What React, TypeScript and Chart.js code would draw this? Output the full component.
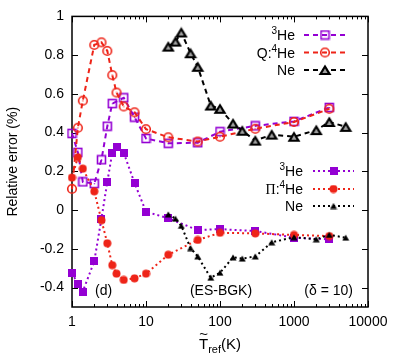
import React, { useEffect, useRef } from 'react';
import { Chart, registerables } from 'chart.js';
Chart.register(...registerables);

// ---- data ----
const q3HeT = [1, 1.2, 1.4, 2, 2.5, 3, 3.5, 5, 7, 10, 20, 50, 100, 300, 1000, 3000];
const q3He = [0.396, 0.298, 0.146, 0.137, 0.26, 0.433, 0.55, 0.58, 0.48, 0.37, 0.345, 0.348, 0.405, 0.435, 0.458, 0.53];
const heT = [1, 1.2, 1.4, 2, 2.5, 3, 3.5, 4, 5, 7, 10, 20, 50, 100, 300, 1000, 3000];
const q4He = [0.11, 0.425, 0.565, 0.853, 0.866, 0.822, 0.697, 0.607, 0.535, 0.505, 0.418, 0.376, 0.354, 0.379, 0.42, 0.455, 0.523];
const p3He = [-0.323, -0.382, -0.42, -0.264, -0.044, 0.146, 0.296, 0.325, 0.296, 0.14, -0.008, -0.042, -0.103, -0.098, -0.108, -0.142, -0.151];
const p4He = [0.168, 0.273, 0.214, 0.097, -0.052, -0.171, -0.284, -0.328, -0.36, -0.352, -0.328, -0.23, -0.154, -0.117, -0.12, -0.128, -0.134];
const neT = [20, 25, 30, 40, 50, 75, 100, 150, 200, 300, 500, 1000, 2000, 3000, 5000];
const qNe = [0.844, 0.87, 0.917, 0.81, 0.74, 0.54, 0.523, 0.447, 0.41, 0.359, 0.39, 0.379, 0.413, 0.455, 0.43];
const pNe = [-0.022, -0.044, -0.081, -0.196, -0.239, -0.349, -0.323, -0.244, -0.25, -0.239, -0.166, -0.14, -0.15, -0.128, -0.142];
const xTicks = [1, 10, 100, 1000, 10000];
const yTicks = [-0.4, -0.2, 0, 0.2, 0.4, 0.6, 0.8, 1];

const PURPLE = '#9400d3';
const RED = '#ee2418';
const BLACK = '#000000';
const SANS = '"Liberation Sans", Arial, sans-serif';
const SERIF = '"Liberation Serif", "DejaVu Serif", serif';

type Seg = { t: string; size?: number; dy?: number; family?: string };

function segFont(s: Seg) {
  return `${s.size ?? 14}px ${s.family ?? SANS}`;
}
function segsWidth(ctx: CanvasRenderingContext2D, segs: Seg[]) {
  let w = 0;
  for (const s of segs) {
    ctx.font = segFont(s);
    w += ctx.measureText(s.t).width;
  }
  return w;
}
function drawSegs(ctx: CanvasRenderingContext2D, segs: Seg[], x: number, y: number, align: 'left' | 'right' | 'center') {
  const w = segsWidth(ctx, segs);
  let cx = align === 'left' ? x : align === 'right' ? x - w : x - w / 2;
  ctx.textAlign = 'left';
  ctx.textBaseline = 'alphabetic';
  ctx.fillStyle = '#000';
  for (const s of segs) {
    ctx.font = segFont(s);
    ctx.fillText(s.t, cx, y + (s.dy ?? 0));
    cx += ctx.measureText(s.t).width;
  }
}

function mk(w: number, h: number, draw: (c: CanvasRenderingContext2D) => void) {
  const cv = document.createElement('canvas');
  cv.width = w;
  cv.height = h;
  const c = cv.getContext('2d')!;
  draw(c);
  return cv;
}

function makeMarkers() {
  const openSquare = mk(11, 11, (c) => {
    c.strokeStyle = PURPLE;
    c.lineWidth = 1.6;
    c.strokeRect(1.5, 1.5, 8, 8);
    c.fillStyle = PURPLE;
    c.fillRect(5, 5, 1.2, 1.2);
  });
  const openCircle = mk(12, 12, (c) => {
    c.strokeStyle = RED;
    c.lineWidth = 1.6;
    c.beginPath();
    c.arc(6, 6, 4.3, 0, Math.PI * 2);
    c.stroke();
    c.fillStyle = RED;
    c.fillRect(5.4, 5.4, 1.2, 1.2);
  });
  const openTri = mk(14, 12, (c) => {
    c.fillStyle = BLACK;
    c.beginPath();
    c.moveTo(7, 0.5);
    c.lineTo(13.5, 11);
    c.lineTo(0.5, 11);
    c.closePath();
    c.fill();
    c.fillStyle = '#a0a0a0';
    c.beginPath();
    c.moveTo(7, 4.6);
    c.lineTo(9.6, 9);
    c.lineTo(4.4, 9);
    c.closePath();
    c.fill();
  });
  const fillSquare = mk(8, 8, (c) => {
    c.fillStyle = PURPLE;
    c.fillRect(0, 0, 8, 8);
  });
  const fillCircle = mk(9, 9, (c) => {
    c.fillStyle = RED;
    c.beginPath();
    c.arc(4.5, 4.5, 4, 0, Math.PI * 2);
    c.fill();
  });
  const fillTri = mk(8, 7, (c) => {
    c.fillStyle = BLACK;
    c.beginPath();
    c.moveTo(4, 0.5);
    c.lineTo(7.5, 6.5);
    c.lineTo(0.5, 6.5);
    c.closePath();
    c.fill();
  });
  return { openSquare, openCircle, openTri, fillSquare, fillCircle, fillTri };
}

const pts = (xs: number[], ys: number[]) => xs.map((x, i) => ({ x, y: ys[i] }));

export default function App() {
  const ref = useRef<HTMLCanvasElement>(null);
  useEffect(() => {
    const m = makeMarkers();
    const DASH = [5, 4];
    const DOT = [2, 3];
    const ds = [
      { label: 'Q:3He', data: pts(q3HeT, q3He), color: PURPLE, dash: DASH, marker: m.openSquare },
      { label: 'Q:4He', data: pts(heT, q4He), color: RED, dash: DASH, marker: m.openCircle },
      { label: 'Q:Ne', data: pts(neT, qNe), color: BLACK, dash: DASH, marker: m.openTri },
      { label: 'P:3He', data: pts(heT, p3He), color: PURPLE, dash: DOT, marker: m.fillSquare },
      { label: 'P:4He', data: pts(heT, p4He), color: RED, dash: DOT, marker: m.fillCircle },
      { label: 'P:Ne', data: pts(neT, pNe), color: BLACK, dash: DOT, marker: m.fillTri },
    ];

    const legendTop: Seg[][] = [
      [{ t: '3', size: 10, dy: -6 }, { t: 'He' }],
      [{ t: 'Q:' }, { t: '4', size: 10, dy: -6 }, { t: 'He' }],
      [{ t: 'Ne' }],
    ];
    const legendBot: Seg[][] = [
      [{ t: '3', size: 10, dy: -6 }, { t: 'He' }],
      [{ t: 'Π', family: SERIF }, { t: ':' }, { t: '4', size: 10, dy: -6 }, { t: 'He' }],
      [{ t: 'Ne' }],
    ];

    const framePlugin = {
      id: 'frame',
      beforeDatasetsDraw(chart: any) {
        const { ctx, chartArea: a, scales } = chart;
        const xs = scales.x, ys = scales.y;
        ctx.save();
        ctx.strokeStyle = '#000';
        ctx.lineWidth = 1;
        ctx.beginPath();
        for (const v of yTicks) {
          const y = Math.round(ys.getPixelForValue(v)) + 0.5;
          ctx.moveTo(a.left, y); ctx.lineTo(a.left + 6, y);
          ctx.moveTo(a.right, y); ctx.lineTo(a.right - 6, y);
        }
        for (let d = 1; d <= 10000; d *= 10) {
          const x = Math.round(xs.getPixelForValue(d)) + 0.5;
          ctx.moveTo(x, a.bottom); ctx.lineTo(x, a.bottom - 6);
          ctx.moveTo(x, a.top); ctx.lineTo(x, a.top + 6);
          if (d < 10000) {
            for (let k = 2; k <= 9; k++) {
              const xm = Math.round(xs.getPixelForValue(d * k)) + 0.5;
              ctx.moveTo(xm, a.bottom); ctx.lineTo(xm, a.bottom - 3);
              ctx.moveTo(xm, a.top); ctx.lineTo(xm, a.top + 3);
            }
          }
        }
        ctx.stroke();
        ctx.lineWidth = 1.5;
        ctx.strokeRect(a.left, a.top, a.right - a.left, a.bottom - a.top);
        ctx.restore();
      },
      afterDraw(chart: any) {
        const { ctx, chartArea: a } = chart;
        ctx.save();
        // y title
        ctx.translate(13, (a.top + a.bottom) / 2);
        ctx.rotate(-Math.PI / 2);
        ctx.font = `14px ${SANS}`;
        ctx.fillStyle = '#000';
        ctx.textAlign = 'center';
        ctx.textBaseline = 'middle';
        ctx.fillText('Relative error (%)', 0, 0);
        ctx.restore();

        ctx.save();
        // x title
        const tSegs: Seg[] = [{ t: 'T', size: 15 }, { t: 'ref', size: 11, dy: 4 }, { t: '(K)', size: 15 }];
        const w = segsWidth(ctx, tSegs);
        const cx = (a.left + a.right) / 2;
        const x0 = cx - w / 2;
        drawSegs(ctx, tSegs, x0, 349, 'left');
        ctx.font = `15px ${SANS}`;
        const tw = ctx.measureText('T').width;
        ctx.font = `15px ${SANS}`;
        ctx.textAlign = 'center';
        ctx.fillText('~', x0 + tw / 2, 339);

        // annotations
        drawSegs(ctx, [{ t: '(d)' }], 95, 295, 'left');
        drawSegs(ctx, [{ t: '(ES-BGK)' }], 221, 295, 'center');
        drawSegs(ctx, [{ t: '(δ = 10)' }], 353, 295, 'right');

        // legends
        const drawLegend = (segs: Seg[][], items: any[], rows: number[], textRight: number, l0: number, l1: number) => {
          segs.forEach((sg, i) => {
            const y = rows[i];
            drawSegs(ctx, sg, textRight, y + 5, 'right');
            const it = items[i];
            ctx.save();
            ctx.strokeStyle = it.color;
            ctx.lineWidth = 2;
            ctx.setLineDash(it.dash);
            ctx.beginPath();
            ctx.moveTo(l0, y); ctx.lineTo(l1, y);
            ctx.stroke();
            ctx.restore();
            const mk = it.marker as HTMLCanvasElement;
            ctx.drawImage(mk, (l0 + l1) / 2 - mk.width / 2, y - mk.height / 2);
          });
        };
        drawLegend(legendTop, ds.slice(0, 3), [35, 52.5, 70], 295, 304, 346);
        drawLegend(legendBot, ds.slice(3, 6), [171, 189, 206], 303, 313, 354);
        ctx.restore();
      },
    };

    const tickFont = { family: SANS, size: 14 };
    const chart = new Chart(ref.current!, {
      type: 'line',
      data: {
        datasets: ds.map((d, i) => ({
          label: d.label,
          data: d.data,
          borderColor: d.color,
          backgroundColor: d.color,
          borderWidth: 2,
          borderDash: d.dash,
          borderCapStyle: 'butt',
          pointStyle: d.marker,
          pointRadius: 5,
          tension: 0,
          clip: false,
          order: 6 - i,
        })) as any,
      },
      options: {
        animation: false,
        responsive: false,
        maintainAspectRatio: false,
        layout: { padding: { left: 0, right: 30, top: 11, bottom: 0 } },
        plugins: { legend: { display: false }, tooltip: { enabled: false } },
        events: [],
        scales: {
          x: {
            type: 'logarithmic',
            min: 1,
            max: 10000,
            afterBuildTicks: (s: any) => { s.ticks = xTicks.map((v) => ({ value: v })); },
            afterFit: (s: any) => { s.height = 52; },
            grid: { display: false, drawTicks: false },
            border: { display: false },
            ticks: { font: tickFont, color: '#000', padding: 7, autoSkip: false, maxRotation: 0, callback: (v: any) => String(v) },
          },
          y: {
            type: 'linear',
            min: -0.5,
            max: 1,
            afterBuildTicks: (s: any) => { s.ticks = yTicks.map((v) => ({ value: v })); },
            afterFit: (s: any) => { s.width = 72; },
            grid: { display: false, drawTicks: false },
            border: { display: false },
            ticks: { font: tickFont, color: '#000', padding: 8, autoSkip: false, callback: (v: any) => String(v) },
          },
        },
      } as any,
      plugins: [framePlugin],
    });
    return () => chart.destroy();
  }, []);
  return (
    <div style={{ position: 'fixed', left: 0, top: 0, width: 398, height: 359, background: '#fff' }}>
      <canvas ref={ref} width={398} height={359} />
    </div>
  );
}
